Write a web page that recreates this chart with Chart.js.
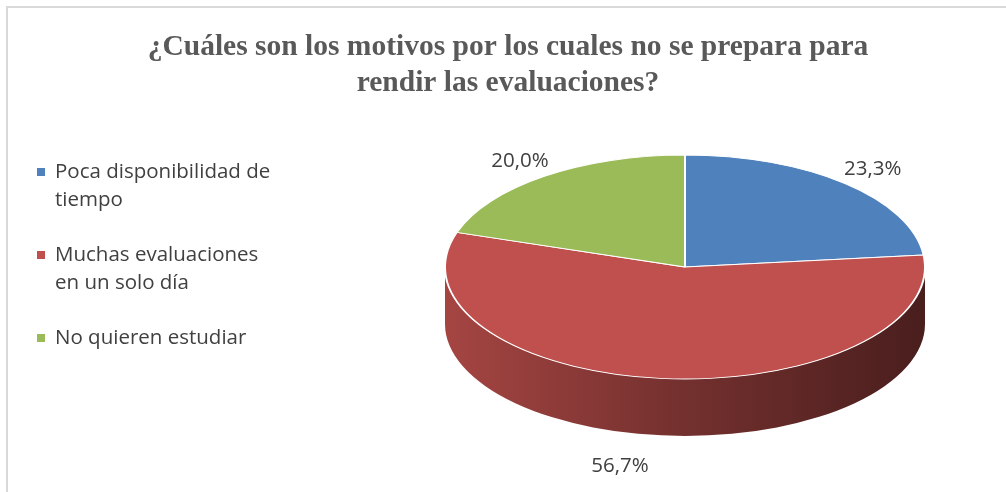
<!DOCTYPE html>
<html>
<head>
<meta charset="utf-8">
<script src="https://cdn.jsdelivr.net/npm/chart.js@4/dist/chart.umd.min.js"></script>
<style>
  html, body { margin: 0; padding: 0; background: #fff; }
  #wrap { position: relative; width: 1006px; height: 492px; }
</style>
</head>
<body>
<div id="wrap"><canvas id="pie" width="1006" height="492"></canvas></div>
<script>
// datos del gráfico
const titleLines = ['¿Cuáles son los motivos por los cuales no se prepara para', 'rendir las evaluaciones?'];
const categories = ['Poca disponibilidad de tiempo', 'Muchas evaluaciones en un solo día', 'No quieren estudiar'];
const legendLines = [['Poca disponibilidad de', 'tiempo'], ['Muchas evaluaciones', 'en un solo día'], ['No quieren estudiar']];
const percents = [23.3, 56.7, 20.0];
const colors = ['#4f81bd', '#c0504d', '#9bbb59'];

// geometría del "3D"
const tilt = 112 / 240;   // achatamiento de la elipse
const depth = 57;         // altura del lateral
const labelFont = '20.5px "Open Sans", "Noto Sans", sans-serif';

function shade(hex, f) {
    const n = parseInt(hex.slice(1), 16);
    const r = Math.round(((n >> 16) & 255) * f);
    const g = Math.round(((n >> 8) & 255) * f);
    const b = Math.round((n & 255) * f);
    return `rgb(${r},${g},${b})`;
}

// Dibuja el marco, el título y la leyenda
const decorPlugin = {
    id: 'decor',
    beforeDraw(chart) {
        const ctx = chart.ctx;
        ctx.save();
        ctx.fillStyle = '#fff';
        ctx.fillRect(0, 0, chart.width, chart.height);
        ctx.strokeStyle = '#d9d9d9';
        ctx.lineWidth = 2;
        ctx.beginPath();
        ctx.moveTo(7, chart.height);
        ctx.lineTo(7, 7);
        ctx.lineTo(chart.width, 7);
        ctx.stroke();

        ctx.fillStyle = '#595959';
        ctx.font = 'bold 29.5px "Liberation Serif", "Times New Roman", serif';
        ctx.textAlign = 'center';
        ctx.textBaseline = 'middle';
        titleLines.forEach((t, i) => ctx.fillText(t, 508, 47 + i * 36));

        ctx.font = labelFont;
        ctx.textAlign = 'left';
        let y = 172;
        legendLines.forEach((lines, i) => {
            ctx.fillStyle = colors[i];
            ctx.fillRect(37, y - 4, 8, 8);
            ctx.fillStyle = '#404040';
            lines.forEach((t, j) => ctx.fillText(t, 55, y + j * 28));
            y += 83;
        });
        ctx.restore();
    }
};

// Aplana la torta y dibuja el lateral
const tiltPlugin = {
    id: 'tilt',
    beforeDatasetsDraw(chart) {
        const ctx = chart.ctx;
        const arcs = chart.getDatasetMeta(0).data;
        const cx = arcs[0].x, cy = arcs[0].y, R = arcs[0].outerRadius;
        const ry = R * tilt;
        ctx.save();
        arcs.forEach((arc, i) => {
            const a0 = Math.max(arc.startAngle, 0);
            const a1 = Math.min(arc.endAngle, Math.PI);
            if (a1 <= a0) return;
            const grad = ctx.createLinearGradient(cx - R, 0, cx + R, 0);
            grad.addColorStop(0, shade(colors[i], 0.86));
            grad.addColorStop(0.5, shade(colors[i], 0.6));
            grad.addColorStop(1, shade(colors[i], 0.38));
            ctx.beginPath();
            ctx.ellipse(cx, cy, R, ry, 0, a0, a1);
            ctx.ellipse(cx, cy + depth, R, ry, 0, a1, a0, true);
            ctx.closePath();
            ctx.fillStyle = grad;
            ctx.fill();
        });
        ctx.restore();
        ctx.save();
        ctx.translate(0, cy);
        ctx.scale(1, tilt);
        ctx.translate(0, -cy);
    },
    afterDatasetsDraw(chart) {
        const ctx = chart.ctx;
        ctx.restore();
        // etiquetas de porcentaje
        const arcs = chart.getDatasetMeta(0).data;
        ctx.save();
        ctx.font = labelFont;
        ctx.fillStyle = '#404040';
        ctx.textAlign = 'center';
        ctx.textBaseline = 'middle';
        arcs.forEach((arc, i) => {
            const mid = (arc.startAngle + arc.endAngle) / 2;
            const r = arc.outerRadius * 1.17;
            let x = arc.x + Math.cos(mid) * r;
            let y = arc.y + Math.sin(mid) * r * tilt;
            if (Math.sin(mid) > 0) {
                // etiqueta del frente, debajo del lateral
                y += depth * 1.2;
                x -= 0.15 * arc.outerRadius;
            }
            ctx.fillText(percents[i].toFixed(1).replace('.', ',') + '%', x, y);
        });
        ctx.restore();
    }
};

const ctx = document.getElementById('pie').getContext('2d');
new Chart(ctx, {
    type: 'pie',
    data: {
        labels: categories,
        datasets: [{
            data: percents,
            backgroundColor: colors,
            borderColor: '#ffffff',
            borderWidth: 2,
            radius: 240,
            clip: false
        }]
    },
    options: {
        responsive: false,
        animation: false,
        events: [],
        layout: { padding: { left: 445, right: 81, top: 155, bottom: 113 } },
        plugins: {
            legend: { display: false },
            title: { display: false },
            tooltip: { enabled: false }
        }
    },
    plugins: [decorPlugin, tiltPlugin]
});
</script>
</body>
</html>
